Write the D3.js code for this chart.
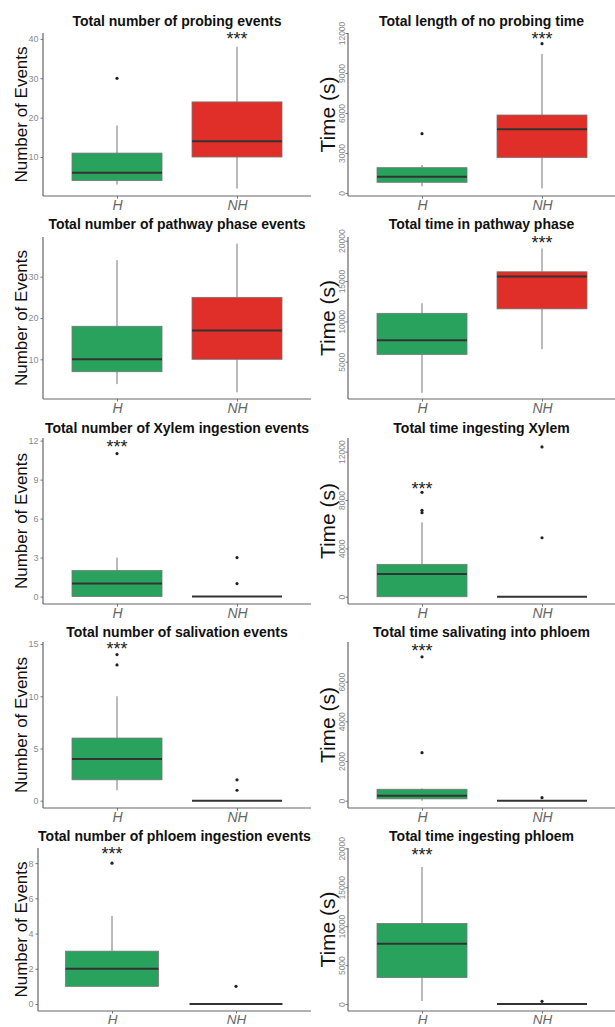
<!DOCTYPE html>
<html>
<head>
<meta charset="utf-8">
<script src="https://cdn.jsdelivr.net/npm/d3@7"></script>
<style>
  body { margin: 0; background: #fff; }
  svg { display: block; font-family: "Liberation Sans", Arial, sans-serif; }
</style>
</head>
<body>
<div id="chart"></div>
<script>
// groups on the x axis
const groups = ['H', 'NH'];

const titles = [
  'Total number of probing events', 'Total length of no probing time',
  'Total number of pathway phase events', 'Total time in pathway phase',
  'Total number of Xylem ingestion events', 'Total time ingesting Xylem',
  'Total number of salivation events', 'Total time salivating into phloem',
  'Total number of phloem ingestion events', 'Total time ingesting phloem'
];

const yTitles = [
  'Number of Events', 'Time (s)', 'Number of Events', 'Time (s)',
  'Number of Events', 'Time (s)', 'Number of Events', 'Time (s)',
  'Number of Events', 'Time (s)'
];

const yTicks = [
  [10, 20, 30, 40], [0, 3000, 6000, 9000, 12000],
  [10, 20, 30], [5000, 10000, 15000, 20000],
  [0, 3, 6, 9, 12], [0, 4000, 8000, 12000],
  [0, 5, 10, 15], [0, 2000, 4000, 6000],
  [0, 2, 4, 6, 8], [0, 5000, 10000, 15000, 20000]
];

const yDomains = [
  [0.1, 41.5], [-225, 12000],
  [0.4, 39.6], [380, 20460],
  [-0.57, 12.2], [-600, 13130],
  [-0.7, 15.2], [-370, 8000],
  [-0.4, 8.86], [-890, 20040]
];

// box stats: lower whisker, Q1, median, Q3, upper whisker
const statsH = [
  [3, 4, 6, 11, 18], [500, 800, 1225, 1900, 2100],
  [4, 7, 10, 18, 34], [1150, 5900, 7650, 11000, 12250],
  [0, 0, 1, 2, 3], [0, 0, 1880, 2680, 6150],
  [1, 2, 4, 6, 10], [0, 90, 250, 575, 620],
  [1, 1, 2, 3, 5], [400, 3400, 7750, 10350, 17600]
];
const statsNH = [
  [2, 10, 14, 24, 38], [350, 2650, 4775, 5850, 10425],
  [2, 10, 17, 25, 38], [6550, 11550, 15550, 16150, 19050],
  [0, 0, 0, 0, 0], [0, 0, 0, 0, 0],
  [0, 0, 0, 0, 0], [0, 0, 0, 0, 0],
  [0, 0, 0, 0, 0], [0, 0, 0, 0, 0]
];

const outliersH = [
  [30], [4450], [], [], [11], [6950, 7150, 8640], [13, 14], [2420, 7250], [8], []
];
const outliersNH = [
  [], [11200], [], [], [1, 3], [4880, 12390], [1, 2], [150], [1], [350]
];

// significance marks: group and height
const starGroup = ['NH', 'NH', null, 'NH', 'H', 'H', 'H', 'H', 'H', 'H'];
const starValue = [41.0, 11850, null, 20210, 11.82, 9244, 14.9, 7750, 8.75, 19655];

(function() {
  const width = 615;
  const height = 1027;
  const green = '#28a25c';
  const red = '#e02f29';

  const svg = d3.select('#chart')
    .append('svg')
    .attr('width', width)
    .attr('height', height);

  svg.append('rect')
    .attr('width', width)
    .attr('height', height)
    .attr('fill', '#fff');

  // layout of the 5x2 grid
  const cols = [
    { axisX: 43, hx: 117, unit: 120, right: 311, ylabX: 21, labSize: 17 },
    { axisX: 348, hx: 422, unit: 120, right: 615, ylabX: 327, labSize: 21 }
  ];
  const rows = [
    { title: 25.5, top: 33, bottom: 196 },
    { title: 228.5, top: 237, bottom: 399 },
    { title: 433, top: 438, bottom: 604 },
    { title: 637, top: 642, bottom: 808 },
    { title: 841, top: 848, bottom: 1011 }
  ];

  titles.forEach((title, i) => {
    const r = rows[Math.floor(i / 2)];
    let c = cols[i % 2];
    // bottom-left panel sits a little further left
    if (i === 8) c = Object.assign({}, c, { axisX: 38, hx: 112, unit: 124 });

    const x = d3.scalePoint().domain(groups).range([c.hx, c.hx + c.unit]);
    const y = d3.scaleLinear().domain(yDomains[i]).range([r.bottom, r.top]);
    const bw = c.unit * 0.75;
    const g = svg.append('g');

    // title
    g.append('text')
      .attr('x', (c.axisX + c.right) / 2)
      .attr('y', r.title)
      .attr('text-anchor', 'middle')
      .attr('font-size', '14px')
      .attr('font-weight', 'bold')
      .attr('fill', '#111')
      .text(title);

    // y title
    g.append('text')
      .attr('transform', `translate(${c.ylabX},${(r.top + r.bottom) / 2}) rotate(-90)`)
      .attr('text-anchor', 'middle')
      .attr('dy', '0.36em')
      .attr('font-size', c.labSize + 'px')
      .attr('fill', '#111')
      .text(yTitles[i]);

    // y axis
    const yAxis = g.append('g')
      .attr('transform', `translate(${c.axisX},0)`)
      .call(d3.axisLeft(y).tickValues(yTicks[i]).tickFormat(d3.format('d'))
        .tickSize(2.5).tickPadding(2));
    yAxis.select('.domain').remove();
    yAxis.selectAll('line').attr('stroke', '#777');
    yAxis.selectAll('text')
      .attr('fill', '#8a8a8a')
      .attr('font-size', '9px');
    if (i % 2 === 1) {
      yAxis.selectAll('text')
        .attr('transform', 'rotate(-90)')
        .attr('x', 0)
        .attr('y', -3)
        .attr('dy', 0)
        .attr('text-anchor', 'middle')
        .attr('font-size', '8.5px');
    }

    // x axis
    const last = i >= 8;
    const xAxis = g.append('g')
      .attr('transform', `translate(0,${r.bottom})`)
      .call(d3.axisBottom(x).tickSize(2.5).tickPadding(last ? 0.5 : 1.5));
    xAxis.select('.domain').remove();
    xAxis.selectAll('line').attr('stroke', '#777');
    xAxis.selectAll('text')
      .attr('fill', '#666')
      .attr('font-size', last ? '13.5px' : '14px')
      .attr('font-style', 'italic');

    // axis lines
    g.append('line')
      .attr('x1', c.axisX).attr('x2', c.axisX)
      .attr('y1', r.top).attr('y2', r.bottom)
      .attr('stroke', '#666').attr('stroke-width', 1.2);
    g.append('line')
      .attr('x1', c.axisX).attr('x2', c.right)
      .attr('y1', r.bottom).attr('y2', r.bottom)
      .attr('stroke', '#666').attr('stroke-width', 1.2);

    const boxes = [
      { grp: 'H', s: statsH[i], out: outliersH[i], fill: green },
      { grp: 'NH', s: statsNH[i], out: outliersNH[i], fill: red }
    ];

    boxes.forEach(b => {
      const cx = x(b.grp);
      // whiskers
      g.append('line')
        .attr('x1', cx).attr('x2', cx)
        .attr('y1', y(b.s[0])).attr('y2', y(b.s[1]))
        .attr('stroke', '#777').attr('stroke-width', 1);
      g.append('line')
        .attr('x1', cx).attr('x2', cx)
        .attr('y1', y(b.s[3])).attr('y2', y(b.s[4]))
        .attr('stroke', '#777').attr('stroke-width', 1);
      // box
      g.append('rect')
        .attr('x', cx - bw / 2)
        .attr('width', bw)
        .attr('y', y(b.s[3]))
        .attr('height', y(b.s[1]) - y(b.s[3]))
        .attr('fill', b.fill)
        .attr('stroke', '#777')
        .attr('stroke-width', 0.8);
      // median
      g.append('line')
        .attr('x1', cx - bw / 2).attr('x2', cx + bw / 2)
        .attr('y1', y(b.s[2])).attr('y2', y(b.s[2]))
        .attr('stroke', '#333').attr('stroke-width', 2);
      // outliers
      g.selectAll(null)
        .data(b.out)
        .enter()
        .append('circle')
        .attr('cx', cx)
        .attr('cy', d => y(d))
        .attr('r', 1.6)
        .attr('fill', '#222');
    });

    if (starGroup[i]) {
      g.append('text')
        .attr('x', x(starGroup[i]))
        .attr('y', y(starValue[i]))
        .attr('dy', '0.57em')
        .attr('text-anchor', 'middle')
        .attr('font-size', '18px')
        .attr('fill', '#222')
        .text('***');
    }
  });
})();
</script>
</body>
</html>
